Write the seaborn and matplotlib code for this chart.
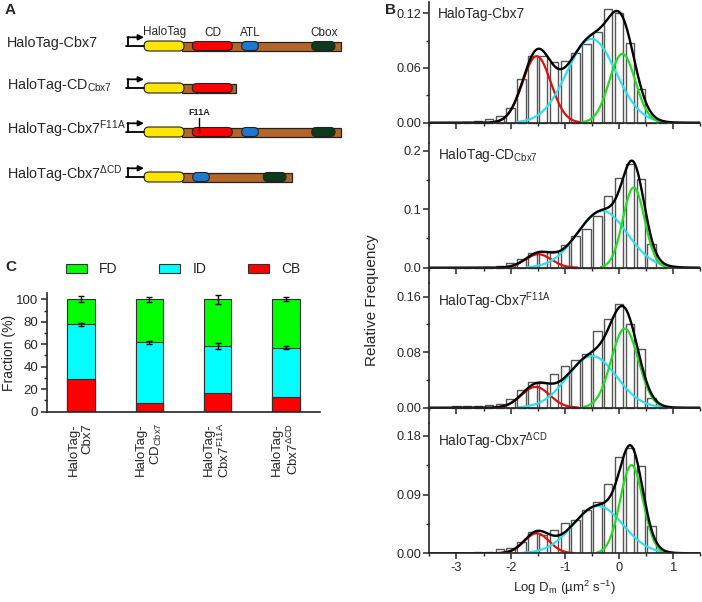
import numpy as np
import pandas as pd
import matplotlib
matplotlib.use("Agg")
import matplotlib.pyplot as plt
import seaborn as sns
from matplotlib.patches import FancyBboxPatch, Rectangle, Patch
from matplotlib.ticker import MultipleLocator, AutoMinorLocator, FormatStrFormatter

sns.set_style("ticks")
plt.rcParams['font.family'] = ['Liberation Sans', 'DejaVu Sans']
plt.rcParams['mathtext.default'] = 'regular'
plt.rcParams['axes.unicode_minus'] = False

# ---- data -------------------------------------------------------------
# panel B: histogram of log diffusion coefficients (bin centres, 0.2 wide)
log_d = [-3.0, -2.8, -2.6, -2.4, -2.2, -2.0, -1.8, -1.6, -1.4, -1.2,
         -1.0, -0.8, -0.6, -0.4, -0.2, 0.0, 0.2, 0.4, 0.6, 0.8]
freq_cbx7 = [0, 0.001, 0.002, 0.004, 0.007, 0.016, 0.048, 0.073, 0.073, 0.067,
             0.068, 0.076, 0.086, 0.100, 0.125, 0.120, 0.087, 0.037, 0, 0]
freq_cd = [0, 0, 0, 0.002, 0.0034, 0.0074, 0.015, 0.0245, 0.026, 0.028,
           0.039, 0.055, 0.067, 0.088, 0.122, 0.153, 0.177, 0.152, 0.040, 0]
freq_f11a = [0.002, 0.002, 0.002, 0.004, 0.005, 0.012, 0.026, 0.0365, 0.035, 0.049,
             0.060, 0.069, 0.078, 0.110, 0.128, 0.149, 0.120, 0.084, 0.0135, 0]
freq_dcd = [0, 0.001, 0.0025, 0.0025, 0.006, 0.0087, 0.018, 0.032, 0.028, 0.036,
            0.046, 0.051, 0.067, 0.079, 0.106, 0.147, 0.161, 0.133, 0.042, 0.002]

# gaussian fit components: (centre, sigma, amplitude) for CB, ID, FD
fit_cbx7 = [(-1.52, 0.26, 0.073), (-0.51, 0.45, 0.092), (0.06, 0.24, 0.0755)]
fit_cd = [(-1.49, 0.24, 0.023), (-0.31, 0.46, 0.097), (0.27, 0.20, 0.137)]
fit_f11a = [(-1.54, 0.26, 0.030), (-0.50, 0.45, 0.0745), (0.105, 0.25, 0.114)]
fit_dcd = [(-1.52, 0.23, 0.0306), (-0.39, 0.46, 0.0724), (0.23, 0.21, 0.135)]

hist_titles = ['HaloTag-Cbx7', 'HaloTag-CD$_{Cbx7}$',
               'HaloTag-Cbx7$^{F11A}$', 'HaloTag-Cbx7$^{\\Delta CD}$']
y_steps = [0.06, 0.1, 0.08, 0.09]
y_fmt = ['%.2f', '%.1f', '%.2f', '%.2f']

# panel C: fractions (%)
groups = ['Cbx7', 'CD', 'F11A', 'dCD']
group_labels = ['HaloTag-\nCbx7', 'HaloTag-\nCD$_{Cbx7}$',
                'HaloTag-\nCbx7$^{F11A}$', 'HaloTag-\nCbx7$^{\\Delta CD}$']
frac_cb = [28.8, 8.0, 16.3, 12.8]
frac_id = [48.9, 53.7, 42.2, 44.2]
frac_fd = [22.3, 38.3, 41.5, 43.0]
err_id = [1.5, 1.3, 3.0, 1.5]
err_fd = [2.8, 2.2, 3.8, 1.8]

# panel A: constructs
construct_names = ['HaloTag-Cbx7', 'HaloTag-CD$_{Cbx7}$',
                   'HaloTag-Cbx7$^{F11A}$', 'HaloTag-Cbx7$^{\\Delta CD}$']

c_red, c_cyan, c_green = '#ff0000', '#00ffff', '#00ff00'
line_cols = ['#e01010', '#30e0ee', '#22dd22']

W, H = 702, 602
fig = plt.figure(figsize=(W / 100, H / 100), dpi=100)


def px_axes(left, top, right, bottom):
    return fig.add_axes([left / W, 1 - bottom / H, (right - left) / W, (bottom - top) / H])


# ---- panel A (schematic) ---------------------------------------------
axa = px_axes(0, 0, 370, 200)
axa.set_xlim(0, 370)
axa.set_ylim(200, 0)
axa.axis('off')

row_y = [46, 88, 132, 177]
row_end = [340.7, 235.7, 340.7, 292.3]
blue, dkgreen, brown, yellow = '#1e78d2', '#0c3a1c', '#b3652a', '#ffe500'
row_domains = [
    [(c_red, 192.3, 232.3), (blue, 241.7, 258.3), (dkgreen, 311.7, 335)],
    [(c_red, 192.3, 232.3)],
    [(c_red, 192.3, 232.3), (blue, 241.7, 258.3), (dkgreen, 311.7, 335)],
    [(blue, 192.7, 209.3), (dkgreen, 263.3, 286)],
]


def pill(ax, x0, x1, yc, h, col):
    ax.add_patch(FancyBboxPatch((x0, yc - h / 2), x1 - x0, h,
                                boxstyle='round,pad=0,rounding_size=%f' % (h / 2),
                                fc=col, ec='#222222', lw=0.8))


for name, y, end, doms in zip(construct_names, row_y, row_end, row_domains):
    axa.text(7, y - 3, name, fontsize=10.4, va='center', ha='left')
    axa.plot([126, 144], [y, y], color='k', lw=1.3)
    axa.plot([128, 128], [y, y - 8.7], color='k', lw=1.3)
    axa.annotate('', xy=(144, y - 8.7), xytext=(127.4, y - 8.7),
                 arrowprops=dict(arrowstyle='-|>', lw=1.3, color='k',
                                 mutation_scale=8, shrinkA=0, shrinkB=0))
    axa.add_patch(Rectangle((182, y - 4.5), end - 182, 9, fc=brown, ec='#222222', lw=0.9))
    pill(axa, 144, 184, y, 10, yellow)
    for col, x0, x1 in doms:
        pill(axa, x0, x1, y, 9, col)

for txt, x in zip(['HaloTag', 'CD', 'ATL', 'Cbox'], [165, 212.7, 250, 324]):
    axa.text(x, 32.5, txt, fontsize=8.5, ha='center', va='center')
axa.text(199.3, 112.5, 'F11A', fontsize=6.5, ha='center', va='center', fontweight='bold')
axa.plot([199, 199], [118, 133], color='k', lw=1)

# ---- panel B (histograms) --------------------------------------------
grid = np.linspace(-3.5, 1.5, 500)
freqs = [freq_cbx7, freq_cd, freq_f11a, freq_dcd]
fits = [fit_cbx7, fit_cd, fit_f11a, fit_dcd]
boxes = [(2, 143, 122.7, 911.7), (143, 283, 267.7, 585.0),
         (283, 423, 407.7, 693.75), (423, 553.3, 553.3, 653.3)]

for i, (freq, fit, (top, bot, zero_px, scale)) in enumerate(zip(freqs, fits, boxes)):
    ax = px_axes(429.3, top, 700.4, bot)
    ax.patch.set_alpha(0)
    df = pd.DataFrame({'logd': log_d, 'freq': freq})
    sns.histplot(data=df, x='logd', weights='freq', binwidth=0.2, binrange=(-3.1, 0.9),
                 shrink=0.78, color='white', alpha=1, edgecolor='#555555',
                 linewidth=1.0, ax=ax)
    total = np.zeros_like(grid)
    for (mu, sd, amp), col in zip(fit, line_cols):
        comp = amp * np.exp(-(grid - mu) ** 2 / (2 * sd ** 2))
        total += comp
        keep = comp > amp * 0.01
        sns.lineplot(x=grid[keep], y=comp[keep], color=col, lw=1.6, ax=ax)
    sns.lineplot(x=grid, y=total, color='black', lw=1.7, ax=ax)

    ax.set_xlim(-3.5, 1.5)
    ax.set_ylim(-(bot - zero_px) / scale, (zero_px - top) / scale)
    sns.despine(ax=ax)
    ax.spines['bottom'].set_position(('data', 0))
    for sp in ['left', 'bottom']:
        ax.spines[sp].set_linewidth(1.2)
        ax.spines[sp].set_zorder(3)
    ax.xaxis.set_major_locator(MultipleLocator(1))
    ax.xaxis.set_minor_locator(MultipleLocator(0.5))
    ax.yaxis.set_major_locator(MultipleLocator(y_steps[i]))
    ax.yaxis.set_minor_locator(AutoMinorLocator(2))
    ax.yaxis.set_major_formatter(FormatStrFormatter(y_fmt[i]))
    ax.tick_params(which='major', length=4, width=1.1, labelsize=9.2, pad=2)
    ax.tick_params(which='minor', length=2.5, width=1)
    ax.set_ylabel('')
    ax.set_xlabel('')
    ax.text(0.032, 1 - (12 if i < 2 else 18) / (bot - top), hist_titles[i],
            transform=ax.transAxes, fontsize=9.8, va='center', ha='left')
    if i < 3:
        ax.tick_params(axis='x', labelbottom=False)
    else:
        ax.set_xlabel('Log D$_m$ (\u00b5m$^2$ s$^{-1}$)', fontsize=9.5, labelpad=4)

fig.text(372 / W, 1 - 300 / H, 'Relative Frequency', rotation=90,
         fontsize=11, ha='center', va='center')

# ---- panel C (stacked bars) ------------------------------------------
axc = px_axes(46.7, 293.3, 320, 411.7)
id_top = [c + d for c, d in zip(frac_cb, frac_id)]
fd_top = [t + f for t, f in zip(id_top, frac_fd)]
for vals, col in [(fd_top, c_green), (id_top, c_cyan), (frac_cb, c_red)]:
    sns.barplot(x=groups, y=vals, color=col, saturation=1, width=0.4,
                edgecolor='#303030', linewidth=0.8, errorbar=None, ax=axc)
axc.errorbar(range(4), id_top, yerr=err_id, fmt='none', ecolor='k',
             elinewidth=1, capsize=2, capthick=1, zorder=5)
axc.errorbar(range(4), fd_top, yerr=err_fd, fmt='none', ecolor='k',
             elinewidth=1, capsize=2, capthick=1, zorder=5)
axc.set_xlim(-0.5, 3.5)
axc.set_ylim(0, 105.3)
sns.despine(ax=axc)
for sp in ['left', 'bottom']:
    axc.spines[sp].set_linewidth(1.2)
axc.yaxis.set_major_locator(MultipleLocator(20))
axc.yaxis.set_minor_locator(MultipleLocator(10))
axc.tick_params(axis='y', which='major', length=4, width=1.1, labelsize=9.5, pad=2)
axc.tick_params(axis='y', which='minor', length=2.5, width=1)
axc.tick_params(axis='x', length=0, pad=8)
axc.set_xticks(range(4))
axc.set_xticklabels(group_labels, rotation=90, ha='center', va='top',
                    multialignment='right', fontsize=9.5, linespacing=1.2)
axc.set_xlabel('')
axc.set_ylabel('Fraction (%)', fontsize=10, ha='center', va='center')
axc.yaxis.set_label_coords(-(46.7 - 9) / 273.3, 0.5)

handles = [Patch(fc=c, ec='#303030', lw=0.8) for c in [c_green, c_cyan, c_red]]
axc.legend(handles, ['FD', 'ID', 'CB'], ncol=3, loc='center',
           bbox_to_anchor=(0.5, 1.205), frameon=False, fontsize=10,
           handlelength=1.5, handleheight=0.6, handletextpad=0.9,
           columnspacing=3.0)

# panel letters
for letter, x, y in [('A', 5, 10), ('B', 385, 10), ('C', 5, 267)]:
    fig.text(x / W, 1 - y / H, letter, fontsize=11, fontweight='bold',
             ha='left', va='center')

fig.savefig('out.png', dpi=100)
